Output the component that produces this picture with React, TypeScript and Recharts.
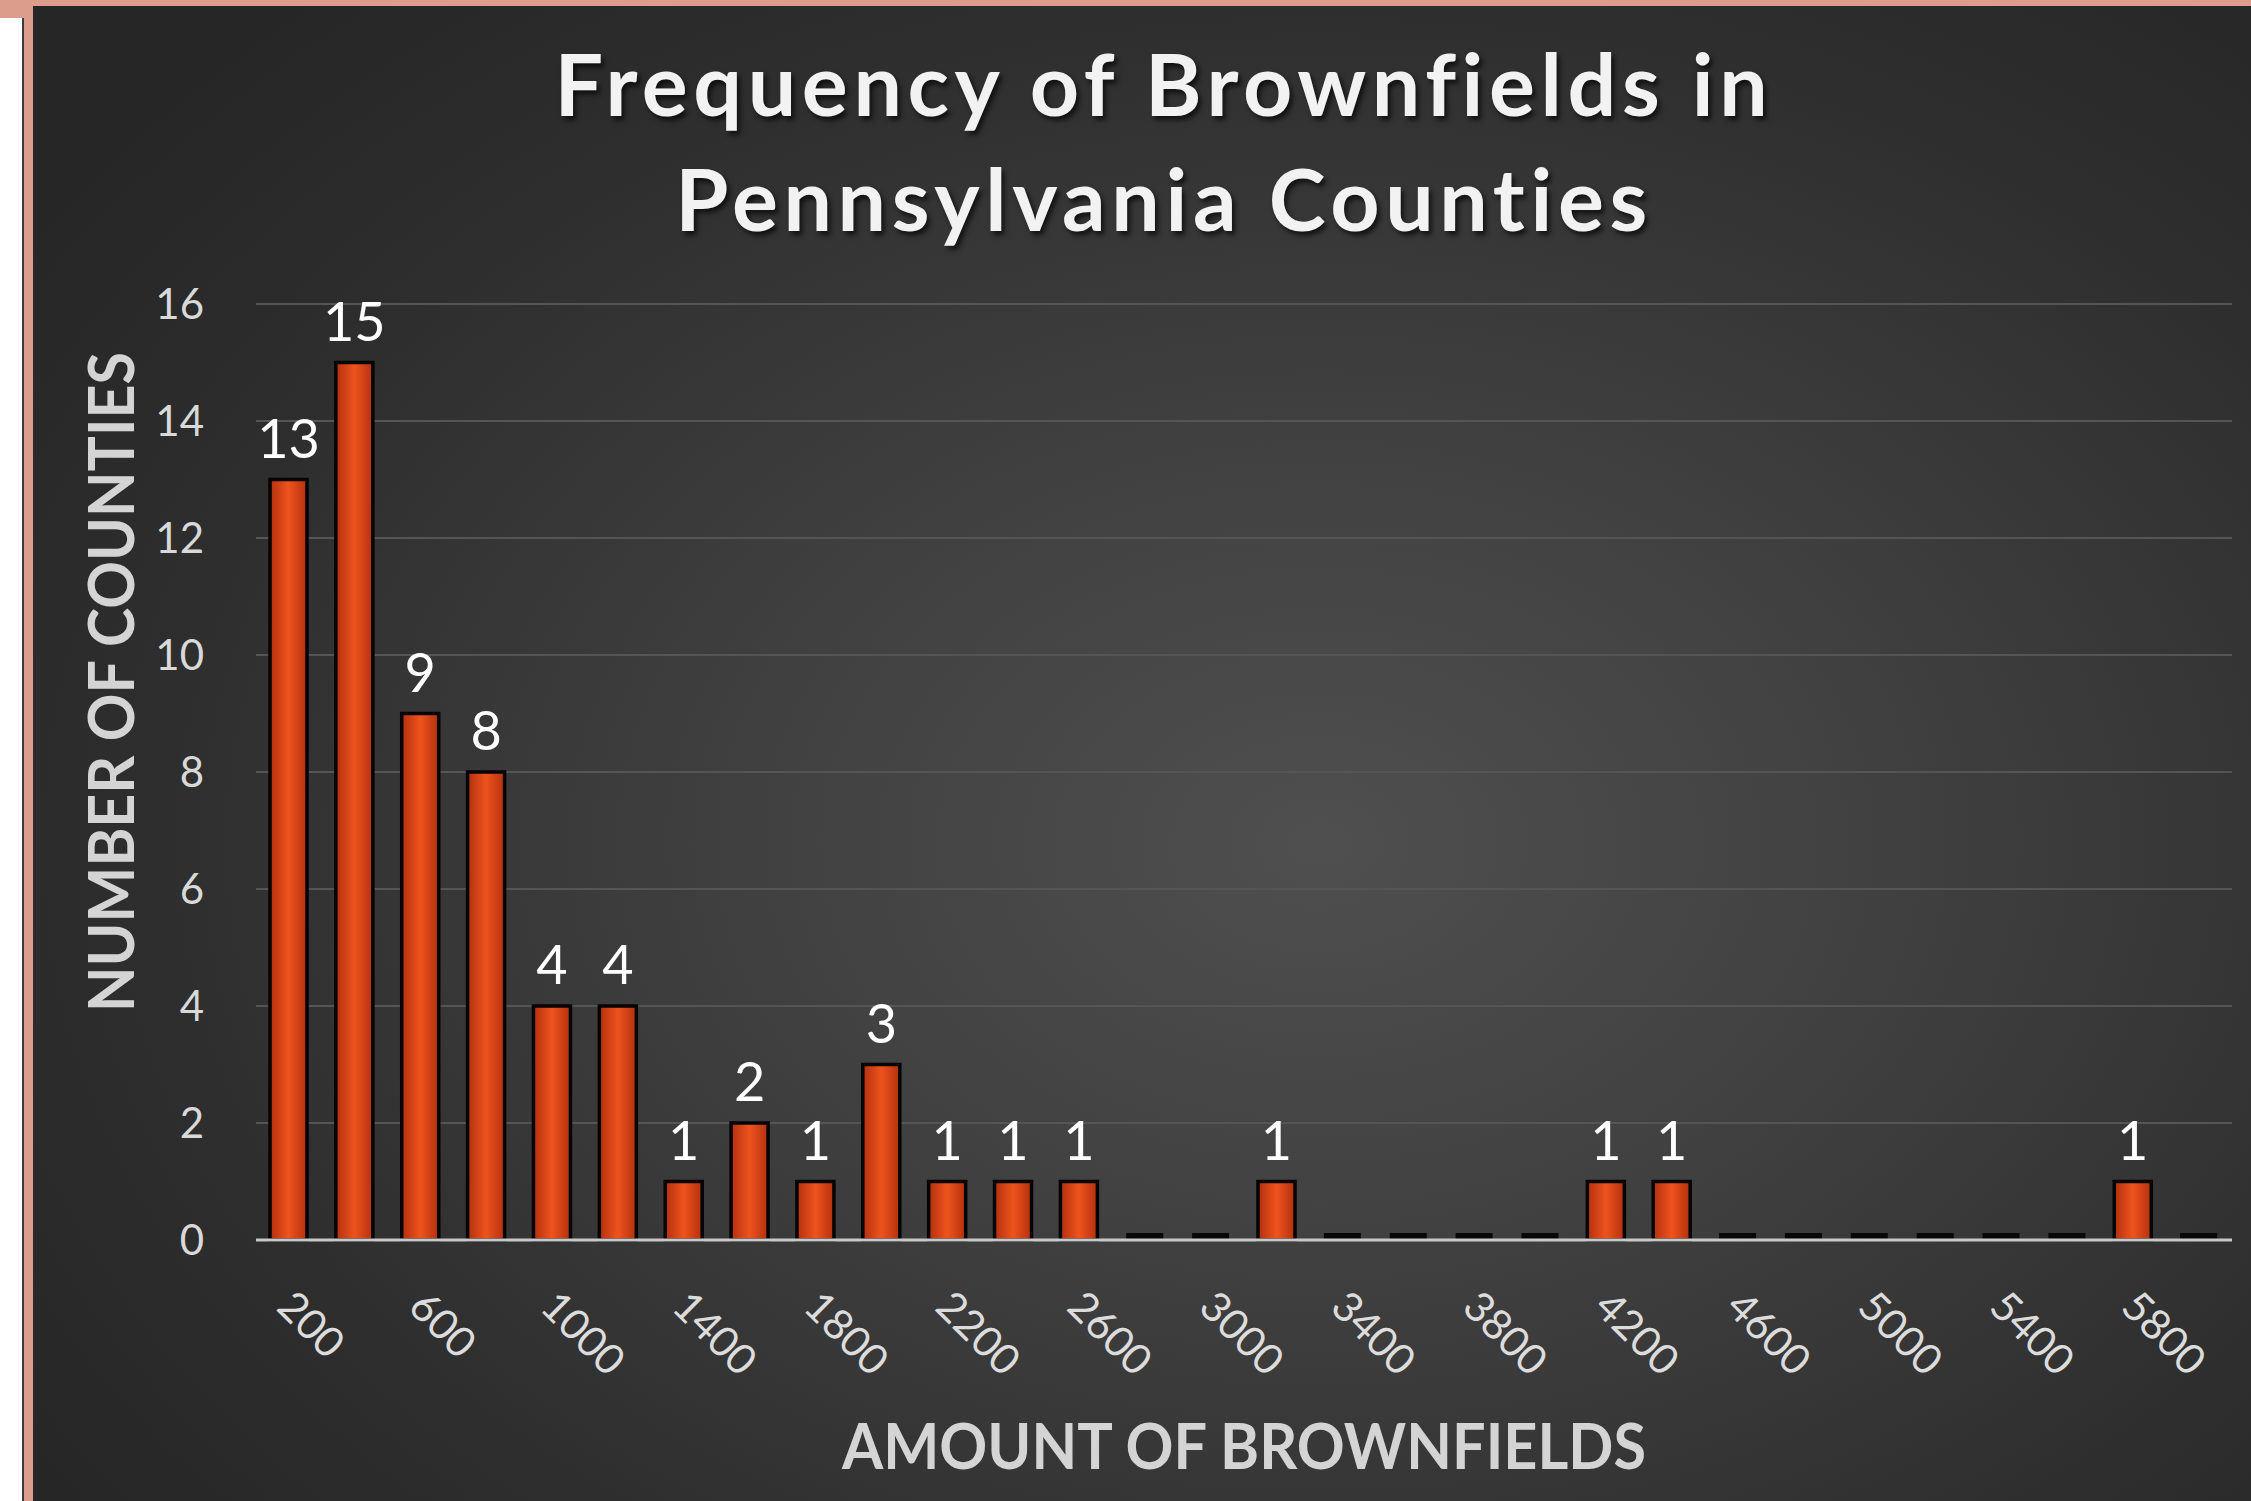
import React from 'react';
import { BarChart, Bar, XAxis, YAxis, CartesianGrid, LabelList } from 'recharts';

// histogram bins (upper bound of each bin) and county counts
const bins = [
  200, 400, 600, 800, 1000, 1200, 1400, 1600, 1800, 2000,
  2200, 2400, 2600, 2800, 3000, 3200, 3400, 3600, 3800, 4000,
  4200, 4400, 4600, 4800, 5000, 5200, 5400, 5600, 5800, 6000,
];
const counties = [
  13, 15, 9, 8, 4, 4, 1, 2, 1, 3,
  1, 1, 1, 0, 0, 1, 0, 0, 0, 0,
  1, 1, 0, 0, 0, 0, 0, 0, 1, 0,
];
const yTicks = [0, 2, 4, 6, 8, 10, 12, 14, 16];

const titleLines = ['Frequency of Brownfields in', 'Pennsylvania Counties'];
const yTitle = 'NUMBER OF COUNTIES';
const xTitle = 'AMOUNT OF BROWNFIELDS';

const data = bins.map((b, i) => ({ bin: String(b), count: counties[i] }));

const W = 2219;
const H = 1495;
const FONT = 'Lato, "Open Sans", sans-serif';

const BarShape = (props: any) => {
  const { x, y, width, height } = props;
  // empty bins show up as a flat black dash on the axis
  if (!height) return <rect x={x} y={y - 7} width={width} height={6} fill="#080808" />;
  return (
    <rect x={x} y={y} width={width} height={height} fill="url(#barFill)" stroke="#050505" strokeWidth={3.5} />
  );
};

const XTick = (props: any) => {
  const { x, y, payload } = props;
  const tx = x - 14;
  return (
    <text
      x={tx}
      y={y}
      transform={`rotate(45 ${tx} ${y})`}
      textAnchor="start"
      fill="#dcdcdc"
      fontSize={42}
      fontFamily={FONT}
    >
      {payload.value}
    </text>
  );
};

const App: React.FC = () => {
  return (
    <div style={{ position: 'fixed', left: 0, top: 0, width: 2251, height: 1501, background: '#dc9d8d', overflow: 'hidden' }}>
      <div style={{ position: 'absolute', left: 0, top: 18, width: 22, height: 1483, background: '#fff', borderRight: '2px solid #3a3a3a' }} />
      <div
        style={{
          position: 'absolute',
          left: 33,
          top: 6,
          width: W - 1,
          height: H,
          background: 'radial-gradient(ellipse 70% 75% at 58% 56%, #4f4f4f 0%, #414141 35%, #2e2e2e 75%, #262626 100%)',
        }}
      >
        <BarChart width={W} height={H} data={data} margin={{ top: 298, right: 19, left: 0, bottom: 0 }} style={{ marginLeft: -1 }}>
          <defs>
            <linearGradient id="barFill" x1="0" y1="0" x2="1" y2="0">
              <stop offset="0%" stopColor="#b3300f" />
              <stop offset="50%" stopColor="#ee531d" />
              <stop offset="100%" stopColor="#b3300f" />
            </linearGradient>
          </defs>
          <CartesianGrid vertical={false} stroke="#555555" strokeWidth={2} />
          <XAxis
            dataKey="bin"
            interval={1}
            height={261}
            tickLine={false}
            tickMargin={63}
            axisLine={{ stroke: '#c8c8c8', strokeWidth: 3 }}
            tick={<XTick />}
          />
          <YAxis
            width={224}
            domain={[0, 16]}
            ticks={yTicks}
            axisLine={false}
            tickLine={false}
            tickMargin={46}
            tick={{ fill: '#d9d9d9', fontSize: 42, fontFamily: FONT }}
          />
          <Bar dataKey="count" barSize={37} shape={<BarShape />} isAnimationActive={false}>
            <LabelList
              dataKey="count"
              position="top"
              offset={22}
              fill="#ffffff"
              fontSize={54}
              fontFamily={FONT}
              formatter={(v: any) => (v ? v : '')}
            />
          </Bar>
        </BarChart>

        <svg width={W} height={H} style={{ position: 'absolute', left: 0, top: 0, pointerEvents: 'none' }}>
          <text
            x={76}
            y={676}
            transform="rotate(-90 76 676)"
            textAnchor="middle"
            dominantBaseline="central"
            fill="#d4d4d4"
            fontSize={64}
            fontWeight={700}
            fontFamily={FONT}
            textLength={660}
            lengthAdjust="spacingAndGlyphs"
          >
            {yTitle}
          </text>
          <text
            x={1211}
            y={1463}
            textAnchor="middle"
            fill="#d4d4d4"
            fontSize={64}
            fontWeight={700}
            fontFamily={FONT}
            textLength={804}
            lengthAdjust="spacingAndGlyphs"
          >
            {xTitle}
          </text>
        </svg>

        <div
          style={{
            position: 'absolute',
            left: 0,
            top: 19,
            width: 2262,
            textAlign: 'center',
            color: '#f2f2f2',
            fontFamily: FONT,
            fontWeight: 700,
            fontSize: 86,
            letterSpacing: 5.6,
            fontVariantLigatures: 'none',
            lineHeight: '115px',
            textShadow: '3px 4px 5px rgba(0,0,0,0.65)',
          }}
        >
          {titleLines.map((t) => (
            <div key={t}>{t}</div>
          ))}
        </div>
      </div>
    </div>
  );
};

export default App;
